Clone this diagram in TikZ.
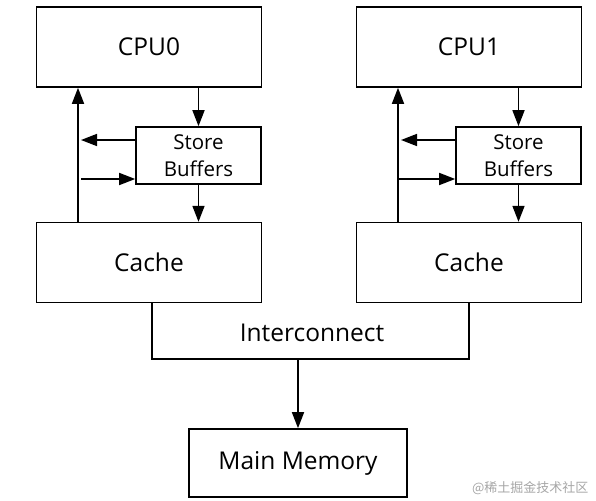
\documentclass[tikz,border=0pt]{standalone}
\usepackage{fontspec}
\setmainfont{Open Sans}
\newfontfamily\cjk{Noto Sans CJK SC}
\usetikzlibrary{calc, arrows.meta, positioning}
\tikzset{
  unit/.style={draw, line width=1.6pt, minimum width=225pt, minimum height=80pt, inner sep=0pt, font=\fontsize{24.5}{28}\selectfont},
  sbuf/.style={draw, line width=1.6pt, minimum width=125pt, minimum height=57pt, inner sep=0pt, align=center, font=\fontsize{20.5}{27}\selectfont},
  flow/.style={-{Triangle[length=16pt,width=12pt]}, line width=1.6pt}
}

\begin{document}
\begin{tikzpicture}[x=1pt, y=-1pt]
  \useasboundingbox (0,0) rectangle (596,500);
  % processors
  \node[unit] (cpu0) at (149,47) {CPU0};
  \node[unit] (cpu1) at (469,47) {CPU1};
  \node[sbuf] (sb0) at (198.5,155.5) {Store\\Buffers};
  \node[sbuf] (sb1) at (518.5,155.5) {Store\\Buffers};
  \node[unit, below=134pt of cpu0.south, anchor=north] (cache0) {Cache};
  \node[unit, below=134pt of cpu1.south, anchor=north] (cache1) {Cache};
  \node[unit, minimum width=218pt, minimum height=68pt] (mem) at (298,463) {Main Memory};
  \coordinate (bus0) at (78,160);
  \coordinate (bus1) at (398,160);
  \coordinate (tap0) at (81,140);
  \coordinate (tap1) at (401,140);
  % left side
  \draw[flow] (cache0.north -| bus0) -- (cpu0.south -| bus0);
  \draw[flow] (cpu0.south -| sb0) -- (sb0.north);
  \draw[flow] (sb0.south) -- (cache0.north -| sb0);
  \draw[flow] ([yshift=15.5pt]sb0.west) -- (tap0);
  \draw[flow] ([yshift=-23.5pt]sb0.west -| tap0) -- ([yshift=-23.5pt]sb0.west);
  % right side
  \draw[flow] (cache1.north -| bus1) -- (cpu1.south -| bus1);
  \draw[flow] (cpu1.south -| sb1) -- (sb1.north);
  \draw[flow] (sb1.south) -- (cache1.north -| sb1);
  \draw[flow] ([yshift=15.5pt]sb1.west) -- (tap1);
  \draw[flow] ([yshift=-23.5pt]sb1.west -| bus1) -- ([yshift=-23.5pt]sb1.west);
  % interconnect
  \coordinate (ic0) at (152,359);
  \coordinate (ic1) at (469,359);
  \draw[line width=1.6pt] (cache0.south -| ic0) -- (ic0) -- (ic1) -- (cache1.south -| ic1);
  \node[font=\fontsize{24.5}{28}\selectfont] (ic) at (312,333) {Interconnect};
  \draw[flow] (ic0 -| mem) -- (mem.north);
  \node[anchor=east, text=black!35, font=\cjk\fontsize{13}{15}\selectfont] (mark) at (592,488) {@稀土掘金技术社区};
\end{tikzpicture}
\end{document}
